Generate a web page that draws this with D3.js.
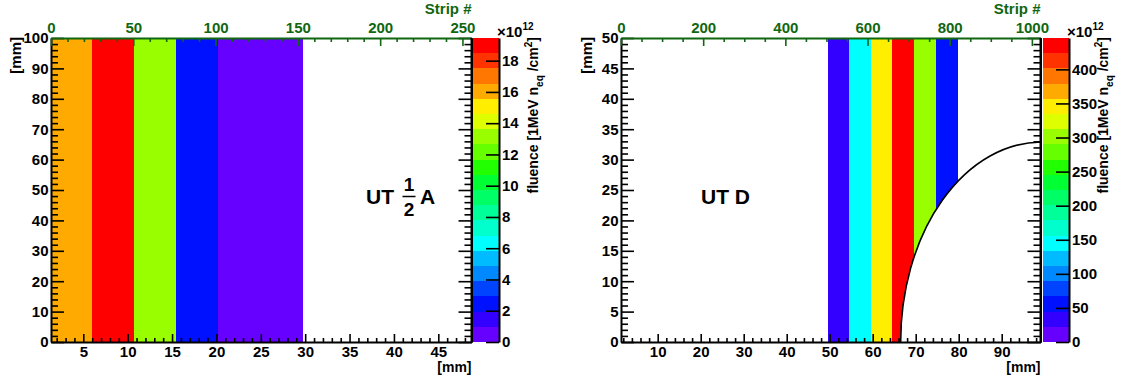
<!DOCTYPE html>
<html>
<head>
<meta charset="utf-8">
<script src="https://cdn.jsdelivr.net/npm/d3@7"></script>
<style>
  body { margin: 0; background: #fff; }
  svg { display: block; }
  text { font-family: "Liberation Sans", Arial, Helvetica, sans-serif; font-weight: bold; }
</style>
</head>
<body>
<svg id="chart" width="1124" height="380"></svg>
<script>
// 20-level fluence palette, lowest level first
const palette = ["#6600ff", "#3300ff", "#0011ff", "#0044ff", "#0088ff", "#00bbff",
                 "#00ffff", "#00ffcc", "#00ff99", "#00ff66", "#00ff33", "#22ff00",
                 "#66ff00", "#99ff00", "#ddff00", "#ffee00", "#ffaa00", "#ff7700",
                 "#ff3300", "#ff0000"];

// Sensor type A (half sensor): column edges [mm] and fluence per column [1e12 neq/cm2]
const edgesA   = [1.36, 6.02, 10.7, 15.45, 20.2, 24.95, 29.7];
const fluenceA = [16.0, 19.2, 13.1, 2.4, 0.6, 0.4];
const mmRangeA    = [1.36, 48.74];
const stripRangeA = [0, 255.5];
const yRangeA     = [0, 100];
const zMaxA       = 19.45;
const zTicksA     = [0, 2, 4, 6, 8, 10, 12, 14, 16, 18];
const xTicksA     = [5, 10, 15, 20, 25, 30, 35, 40, 45];
const stripTicksA = [0, 50, 100, 150, 200, 250];
const yTicksA     = [0, 10, 20, 30, 40, 50, 60, 70, 80, 90, 100];

// Sensor type D: column edges [mm] and fluence per column [1e12 neq/cm2]
const edgesD   = [49.55, 54.55, 59.6, 64.6, 69.65, 74.7, 79.75];
const fluenceD = [33, 145, 345, 440, 300, 56];
const mmRangeD    = [1.465, 99.02];
const stripRangeD = [0, 1021];
const yRangeD     = [0, 50];
const zMaxD       = 446;
const zTicksD     = [0, 50, 100, 150, 200, 250, 300, 350, 400];
const xTicksD     = [10, 20, 30, 40, 50, 60, 70, 80, 90];
const stripTicksD = [0, 200, 400, 600, 800, 1000];
const yTicksD     = [0, 5, 10, 15, 20, 25, 30, 35, 40, 45, 50];
// beam-pipe cut-out of sensor D: centre [mm] and radius [mm]
const holeCentreD = [99.4, 0];
const holeRadiusD = 32.9;

const svg = d3.select("#chart");
const GREEN = "#116611";
const FS = 15;
const fmt = d3.format("d");

function styleAxis(g, color, fontSize) {
  g.attr("font-family", null).attr("font-size", fontSize);
  g.selectAll("path.domain").attr("stroke", color).attr("stroke-width", 2);
  g.selectAll(".tick line").attr("stroke", color).attr("stroke-width", 1.6);
  g.selectAll(".tick text").attr("fill", color);
}

function minorValues(majors, step, domain) {
  const out = [];
  const lo = domain[0], hi = domain[1];
  const start = Math.ceil(lo / step) * step;
  for (let v = start; v <= hi + 1e-9; v += step) {
    const vv = +v.toFixed(6);
    if (!majors.some(m => Math.abs(m - vv) < 1e-6)) out.push(vv);
  }
  return out;
}

function drawPanel(cfg) {
  const { left, right, top, bottom, palLeft, palRight } = cfg;
  const g = svg.append("g");

  const x = d3.scaleLinear().domain(cfg.mmRange).range([left, right]);
  const xs = d3.scaleLinear().domain(cfg.stripRange).range([left, right]);
  const y = d3.scaleLinear().domain(cfg.yRange).range([bottom, top]);
  const z = d3.scaleLinear().domain([0, cfg.zMax]).range([bottom, top]);
  const color = d3.scaleQuantize().domain([0, cfg.zMax]).range(palette);

  const clipId = "clip-" + cfg.name;
  g.append("clipPath").attr("id", clipId)
    .append("rect").attr("x", left).attr("y", top)
    .attr("width", right - left).attr("height", bottom - top);

  const plot = g.append("g").attr("clip-path", `url(#${clipId})`);

  // fluence columns
  const cols = cfg.values.map((v, i) => ({ x0: cfg.edges[i], x1: cfg.edges[i + 1], v }));
  plot.selectAll("rect.col").data(cols).join("rect")
    .attr("class", "col")
    .attr("x", d => x(d.x0))
    .attr("width", d => x(d.x1) - x(d.x0))
    .attr("y", y(cfg.yRange[1]))
    .attr("height", y(cfg.yRange[0]) - y(cfg.yRange[1]))
    .attr("fill", d => color(d.v))
    .attr("shape-rendering", "crispEdges");

  // beam-pipe cut-out
  if (cfg.holeCentre) {
    const [hx, hy] = cfg.holeCentre;
    const r = cfg.holeRadius;
    plot.append("ellipse")
      .attr("cx", x(hx)).attr("cy", y(hy))
      .attr("rx", x(hx + r) - x(hx)).attr("ry", y(hy) - y(hy + r))
      .attr("fill", "#fff").attr("stroke", "#000").attr("stroke-width", 1.6);
  }

  // left y axis
  const yMinor = minorValues(cfg.yTicks, cfg.yMinorStep, cfg.yRange);
  const gyMinor = g.append("g").attr("transform", `translate(${left},0)`)
    .call(d3.axisLeft(y).tickValues(yMinor).tickSize(-7).tickSizeOuter(0).tickFormat(""));
  styleAxis(gyMinor, "#000", FS);
  gyMinor.select("path.domain").remove();
  const gy = g.append("g").attr("transform", `translate(${left},0)`)
    .call(d3.axisLeft(y).tickValues(cfg.yTicks).tickSize(-13).tickSizeOuter(0).tickPadding(2.5).tickFormat(fmt));
  styleAxis(gy, "#000", FS);

  // right y ticks (mirror)
  const gyrMinor = g.append("g").attr("transform", `translate(${right},0)`)
    .call(d3.axisRight(y).tickValues(yMinor).tickSize(-7).tickSizeOuter(0).tickFormat(""));
  styleAxis(gyrMinor, "#000", FS);
  const gyr = g.append("g").attr("transform", `translate(${right},0)`)
    .call(d3.axisRight(y).tickValues(cfg.yTicks).tickSize(-13).tickSizeOuter(0).tickFormat(""));
  styleAxis(gyr, "#000", FS);

  // bottom mm axis
  const xMinor = minorValues(cfg.xTicks, cfg.xMinorStep, cfg.mmRange);
  const gxMinor = g.append("g").attr("transform", `translate(0,${bottom})`)
    .call(d3.axisBottom(x).tickValues(xMinor).tickSize(-4).tickSizeOuter(0).tickFormat(""));
  styleAxis(gxMinor, "#000", FS);
  gxMinor.select("path.domain").remove();
  const gx = g.append("g").attr("transform", `translate(0,${bottom})`)
    .call(d3.axisBottom(x).tickValues(cfg.xTicks).tickSize(-8).tickSizeOuter(0).tickPadding(4.5).tickFormat(fmt));
  styleAxis(gx, "#000", FS);

  // top strip axis
  const sMinor = minorValues(cfg.stripTicks, cfg.stripMinorStep, cfg.stripRange);
  const gsMinor = g.append("g").attr("transform", `translate(0,${top})`)
    .call(d3.axisTop(xs).tickValues(sMinor).tickSize(-4).tickSizeOuter(0).tickFormat(""));
  styleAxis(gsMinor, GREEN, FS);
  gsMinor.select("path.domain").remove();
  const gs = g.append("g").attr("transform", `translate(0,${top})`)
    .call(d3.axisTop(xs).tickValues(cfg.stripTicks).tickSize(-8).tickSizeOuter(0).tickPadding(5.5).tickFormat(fmt));
  styleAxis(gs, GREEN, FS);

  // axis titles
  g.append("text").attr("x", right).attr("y", 14).attr("text-anchor", "end")
    .attr("font-size", FS).attr("fill", GREEN).text("Strip #");
  g.append("text").attr("x", right).attr("y", 372).attr("text-anchor", "end")
    .attr("font-size", 14).attr("fill", "#000").text("[mm]");
  g.append("text").attr("transform", `translate(${cfg.yTitleX},${top - 1}) rotate(-90)`)
    .attr("text-anchor", "end").attr("font-size", FS).attr("fill", "#000").text("[mm]");

  // colour bar
  const levels = d3.range(palette.length).map(i => ({
    lo: i * cfg.zMax / palette.length,
    hi: (i + 1) * cfg.zMax / palette.length
  }));
  g.selectAll("rect.lev").data(levels).join("rect")
    .attr("class", "lev")
    .attr("x", palLeft).attr("width", palRight - palLeft)
    .attr("y", d => z(d.hi)).attr("height", d => z(d.lo) - z(d.hi))
    .attr("fill", d => color((d.lo + d.hi) / 2))
    .attr("shape-rendering", "crispEdges");
  const gz = g.append("g").attr("transform", `translate(${palRight},0)`)
    .call(d3.axisRight(z).tickValues(cfg.zTicks).tickSize(-13).tickSizeOuter(0).tickPadding(3).tickFormat(fmt));
  styleAxis(gz, "#000", FS);

  // exponent above the colour bar
  const ex = g.append("text").attr("x", palRight - 2).attr("y", 37)
    .attr("font-size", 15).attr("fill", "#000").attr("font-weight", "normal");
  ex.append("tspan").text("\u00d710");
  ex.append("tspan").attr("font-size", 10).attr("font-weight", "bold").attr("dy", -7).text("12");

  // colour bar title
  const t = g.append("text")
    .attr("transform", `translate(${palRight + 39},${top - 1}) rotate(-90)`)
    .attr("text-anchor", "end").attr("font-size", 14).attr("fill", "#000");
  t.append("tspan").text("fluence [1MeV n");
  t.append("tspan").attr("font-size", 10).attr("dy", 5).text("eq");
  t.append("tspan").attr("dy", -5).text(" /cm");
  t.append("tspan").attr("font-size", 10).attr("dy", -6).text("2");
  t.append("tspan").attr("dy", 6).text("]");

  // right frame edge
  g.append("line").attr("x1", right).attr("x2", right).attr("y1", top).attr("y2", bottom)
    .attr("stroke", "#000").attr("stroke-width", 2);

  return g;
}

const gA = drawPanel({
  name: "A", left: 51, right: 471.5, top: 38, bottom: 342, palLeft: 473, palRight: 499,
  yTitleX: 21,
  mmRange: mmRangeA, stripRange: stripRangeA, yRange: yRangeA, zMax: zMaxA,
  edges: edgesA, values: fluenceA,
  xTicks: xTicksA, xMinorStep: 1, stripTicks: stripTicksA, stripMinorStep: 10,
  yTicks: yTicksA, yMinorStep: 2, zTicks: zTicksA
});

const gD = drawPanel({
  name: "D", left: 621, right: 1040.5, top: 38, bottom: 342, palLeft: 1043, palRight: 1069,
  yTitleX: 592,
  mmRange: mmRangeD, stripRange: stripRangeD, yRange: yRangeD, zMax: zMaxD,
  edges: edgesD, values: fluenceD, holeCentre: holeCentreD, holeRadius: holeRadiusD,
  xTicks: xTicksD, xMinorStep: 2, stripTicks: stripTicksD, stripMinorStep: 50,
  yTicks: yTicksD, yMinorStep: 1, zTicks: zTicksD
});

// sensor labels
const la = gA.append("g").attr("fill", "#000");
la.append("text").attr("x", 366).attr("y", 204).attr("font-size", 21).text("UT");
la.append("text").attr("x", 409).attr("y", 191).attr("font-size", 19).attr("text-anchor", "middle").text("1");
la.append("line").attr("x1", 402.5).attr("x2", 415.5).attr("y1", 196.5).attr("y2", 196.5)
  .attr("stroke", "#000").attr("stroke-width", 1.5);
la.append("text").attr("x", 409).attr("y", 216).attr("font-size", 19).attr("text-anchor", "middle").text("2");
la.append("text").attr("x", 420).attr("y", 204).attr("font-size", 21).text("A");

gD.append("text").attr("x", 701).attr("y", 204).attr("font-size", 21).attr("fill", "#000").text("UT D");
</script>
</body>
</html>
